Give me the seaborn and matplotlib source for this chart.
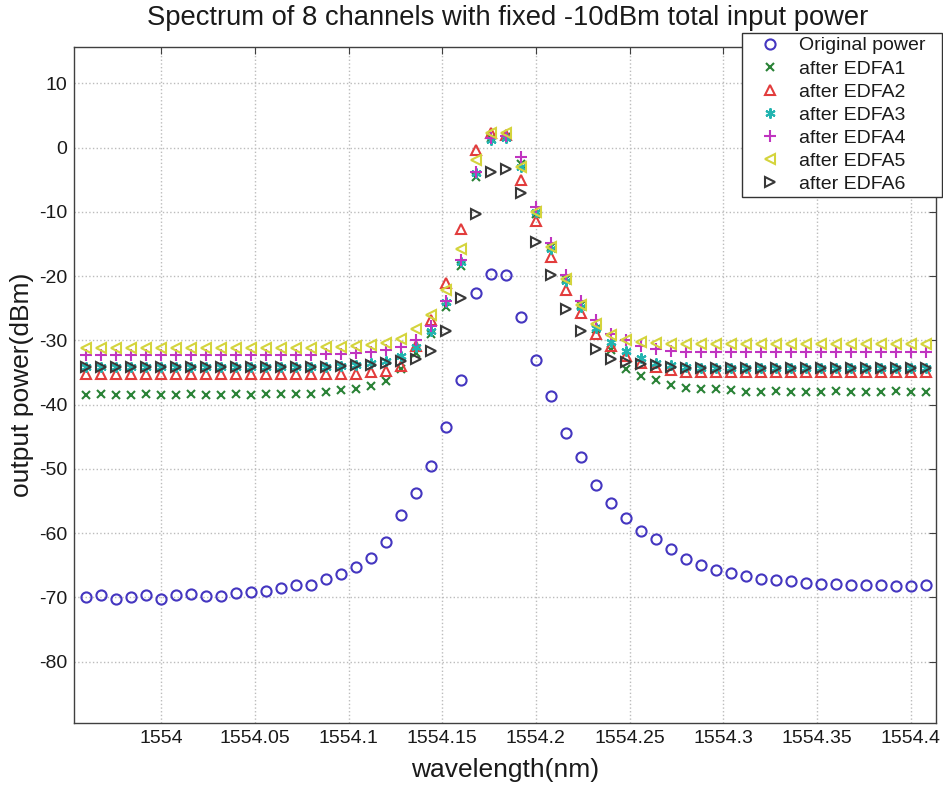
import matplotlib
matplotlib.use("Agg")
import matplotlib.pyplot as plt
import pandas as pd
import seaborn as sns

# ---------------- data ----------------
wavelength = [1553.960, 1553.968, 1553.976, 1553.984, 1553.992, 1554.000, 1554.008, 1554.016, 1554.024, 1554.032,
              1554.040, 1554.048, 1554.056, 1554.064, 1554.072, 1554.080, 1554.088, 1554.096, 1554.104, 1554.112,
              1554.120, 1554.128, 1554.136, 1554.144, 1554.152, 1554.160, 1554.168, 1554.176, 1554.184, 1554.192,
              1554.200, 1554.208, 1554.216, 1554.224, 1554.232, 1554.240, 1554.248, 1554.256, 1554.264, 1554.272,
              1554.280, 1554.288, 1554.296, 1554.304, 1554.312, 1554.320, 1554.328, 1554.336, 1554.344, 1554.352,
              1554.360, 1554.368, 1554.376, 1554.384, 1554.392, 1554.400, 1554.408]

original = [-69.9, -69.7, -70.2, -70.0, -69.7, -70.3, -69.7, -69.5, -69.8, -69.8,
            -69.3, -69.2, -69.0, -68.6, -68.1, -68.0, -67.1, -66.4, -65.3, -63.8,
            -61.4, -57.2, -53.7, -49.6, -43.5, -36.2, -22.7, -19.6, -19.9, -26.3,
            -33.0, -38.7, -44.4, -48.1, -52.5, -55.3, -57.6, -59.7, -60.9, -62.4,
            -64.1, -65.0, -65.8, -66.2, -66.7, -67.1, -67.3, -67.5, -67.7, -67.9,
            -67.9, -68.1, -68.0, -68.0, -68.2, -68.2, -68.0]

edfa1 = [-38.5, -38.4, -38.5, -38.5, -38.4, -38.5, -38.5, -38.4, -38.5, -38.5,
         -38.4, -38.5, -38.4, -38.4, -38.4, -38.3, -38.0, -37.7, -37.5, -37.1,
         -36.4, -34.5, -32.0, -29.0, -24.8, -18.5, -4.5, 1.5, 1.7, -2.5,
         -10.3, -15.5, -20.5, -24.5, -28.2, -31.5, -34.4, -35.5, -36.2, -37.0,
         -37.4, -37.5, -37.6, -37.8, -38.0, -38.0, -37.9, -38.0, -38.0, -38.0,
         -37.9, -38.0, -38.0, -38.0, -37.9, -38.0, -38.0]

edfa2 = [-35.3, -35.3, -35.3, -35.3, -35.3, -35.3, -35.3, -35.3, -35.3, -35.3,
         -35.3, -35.3, -35.3, -35.3, -35.3, -35.3, -35.3, -35.2, -35.2, -35.0,
         -34.7, -34.0, -30.8, -26.8, -21.0, -12.7, -0.3, 2.2, 2.0, -5.1,
         -11.4, -17.0, -22.1, -25.7, -29.0, -30.8, -32.5, -33.5, -34.2, -34.6,
         -35.0, -35.0, -35.0, -35.0, -35.0, -35.0, -35.0, -35.0, -35.0, -35.0,
         -35.0, -35.0, -35.0, -35.0, -35.0, -35.0, -35.0]

edfa3 = [-34.2, -34.2, -34.2, -34.2, -34.2, -34.2, -34.2, -34.2, -34.2, -34.2,
         -34.2, -34.2, -34.2, -34.2, -34.2, -34.2, -34.1, -34.0, -33.8, -33.5,
         -33.2, -32.5, -31.0, -28.5, -24.1, -17.8, -3.9, 1.2, 1.5, -3.0,
         -10.0, -15.8, -20.8, -24.8, -28.0, -30.3, -31.6, -32.8, -33.5, -33.9,
         -34.1, -34.3, -34.3, -34.3, -34.3, -34.3, -34.3, -34.3, -34.3, -34.3,
         -34.3, -34.3, -34.3, -34.3, -34.3, -34.3, -34.3]

edfa4 = [-32.3, -32.3, -32.3, -32.3, -32.3, -32.3, -32.3, -32.3, -32.3, -32.3,
         -32.3, -32.3, -32.3, -32.3, -32.3, -32.3, -32.2, -32.1, -32.0, -31.8,
         -31.5, -31.0, -30.0, -27.8, -23.8, -17.5, -3.8, 1.5, 1.8, -1.5,
         -9.3, -14.8, -19.9, -23.8, -26.9, -29.0, -30.0, -30.8, -31.3, -31.6,
         -31.8, -31.8, -31.8, -31.8, -31.8, -31.8, -31.8, -31.8, -31.8, -31.8,
         -31.8, -31.8, -31.8, -31.8, -31.8, -31.8, -31.8]

edfa5 = [-31.2, -31.2, -31.2, -31.2, -31.2, -31.2, -31.2, -31.2, -31.2, -31.2,
         -31.2, -31.2, -31.2, -31.2, -31.2, -31.2, -31.1, -31.0, -30.9, -30.7,
         -30.4, -29.8, -28.2, -26.1, -22.2, -15.8, -2.0, 2.3, 2.2, -3.0,
         -10.0, -15.5, -20.5, -24.5, -27.5, -29.2, -30.0, -30.2, -30.4, -30.5,
         -30.5, -30.5, -30.5, -30.5, -30.5, -30.5, -30.5, -30.5, -30.5, -30.5,
         -30.5, -30.5, -30.5, -30.5, -30.5, -30.5, -30.5]

edfa6 = [-34.2, -34.2, -34.2, -34.2, -34.2, -34.2, -34.2, -34.2, -34.2, -34.2,
         -34.2, -34.2, -34.2, -34.2, -34.2, -34.2, -34.1, -34.0, -33.9, -33.8,
         -33.5, -33.2, -32.9, -31.6, -28.6, -23.4, -10.3, -3.8, -3.3, -7.0,
         -14.7, -19.8, -25.1, -28.6, -31.3, -32.9, -33.4, -33.7, -33.9, -34.1,
         -34.3, -34.3, -34.3, -34.3, -34.3, -34.3, -34.3, -34.3, -34.3, -34.3,
         -34.3, -34.3, -34.3, -34.3, -34.3, -34.3, -34.3]

series_names = ["Original power", "after EDFA1", "after EDFA2", "after EDFA3",
                "after EDFA4", "after EDFA5", "after EDFA6"]
series_values = [original, edfa1, edfa2, edfa3, edfa4, edfa5, edfa6]

x_ticks = [1554.0, 1554.05, 1554.1, 1554.15, 1554.2, 1554.25, 1554.3, 1554.35, 1554.4]
x_tick_labels = ["1554", "1554.05", "1554.1", "1554.15", "1554.2", "1554.25", "1554.3", "1554.35", "1554.4"]
y_ticks = [-80, -70, -60, -50, -40, -30, -20, -10, 0, 10]
y_tick_labels = ["-80", "-70", "-60", "-50", "-40", "-30", "-20", "-10", "0", "10"]

# ---------------- styles ----------------
styles = [
    dict(color="#4436c0", marker="o", ms=7.3, open=True),
    dict(color="#2a8236", marker="x", ms=5.8, open=False),
    dict(color="#e23c3c", marker="^", ms=7.8, open=True),
    dict(color="#22b4b0", marker=(6, 2, 0), ms=7.3, open=False),
    dict(color="#c034c0", marker="+", ms=8.3, open=False),
    dict(color="#d4d43c", marker="<", ms=7.8, open=True),
    dict(color="#383838", marker=">", ms=7.8, open=True),
]

sns.set_theme(style="white")
plt.rcParams["font.family"] = ["Liberation Sans", "DejaVu Sans"]

W, H = 943, 788
fig = plt.figure(figsize=(W / 100, H / 100), dpi=100)
ax_l, ax_r, ax_t, ax_b = 74, 936, 46.7, 722.7
ax = fig.add_axes([ax_l / W, 1 - ax_b / H, (ax_r - ax_l) / W, (ax_b - ax_t) / H])

for name, vals, st in zip(series_names, series_values, styles):
    df = pd.DataFrame({"wavelength": wavelength, "power": vals})
    kw = dict(marker=st["marker"], linestyle="", markersize=st["ms"],
              markeredgewidth=1.5, color=st["color"], markeredgecolor=st["color"])
    kw["markerfacecolor"] = "none" if st["open"] else st["color"]
    sns.lineplot(data=df, x="wavelength", y="power", ax=ax, label=name,
                 estimator=None, sort=False, legend=False, **kw)

ax.set_xlim(1553.9535, 1554.4135)
ax.set_ylim(-89.5, 15.7)
ax.set_xticks(x_ticks)
ax.set_xticklabels(x_tick_labels)
ax.set_yticks(y_ticks)
ax.set_yticklabels(y_tick_labels)

ax.grid(True, linestyle=":", color="#bcbcbc", linewidth=1.0)
ax.set_axisbelow(True)
for sp in ax.spines.values():
    sp.set_visible(True)
    sp.set_color("#404040")
    sp.set_linewidth(1.0)

ax.tick_params(axis="both", which="both", direction="in", top=True, right=True,
               length=5, width=0.8, color="#404040", labelsize=14, labelcolor="#1a1a1a",
               pad=5)

ax.set_xlabel("wavelength(nm)", fontsize=19, color="#1a1a1a")
ax.set_ylabel("output power(dBm)", fontsize=19, color="#1a1a1a")
ax.xaxis.set_label_coords((505 - ax_l) / (ax_r - ax_l), -(770 - ax_b) / (ax_b - ax_t))
ax.yaxis.set_label_coords(-(ax_l - 22) / (ax_r - ax_l), 0.5)
ax.xaxis.label.set_va("center")
ax.yaxis.label.set_va("center")

ax.set_title("Spectrum of 8 channels with fixed -10dBm total input power",
             fontsize=19.7, color="#1a1a1a", pad=0,
             x=(508 - ax_l) / (ax_r - ax_l), y=(ax_b - 18) / (ax_b - ax_t), va="center")

# legend box: x 742..942, y 33..200 (pixels)
handles, labels = ax.get_legend_handles_labels()
leg = ax.legend(handles, labels, loc="upper left", mode="expand",
                bbox_to_anchor=(742 / W, 1 - 200 / H, 200 / W, 167 / H),
                bbox_transform=fig.transFigure,
                fontsize=14, frameon=True, fancybox=False, framealpha=1.0,
                edgecolor="#333333", facecolor="white", numpoints=1,
                handlelength=2.5, handletextpad=0.25, labelspacing=0.28,
                borderpad=0.2, borderaxespad=0)
leg.get_frame().set_linewidth(1.0)
for t in leg.get_texts():
    t.set_color("#1a1a1a")

fig.savefig("out.png", dpi=100)
